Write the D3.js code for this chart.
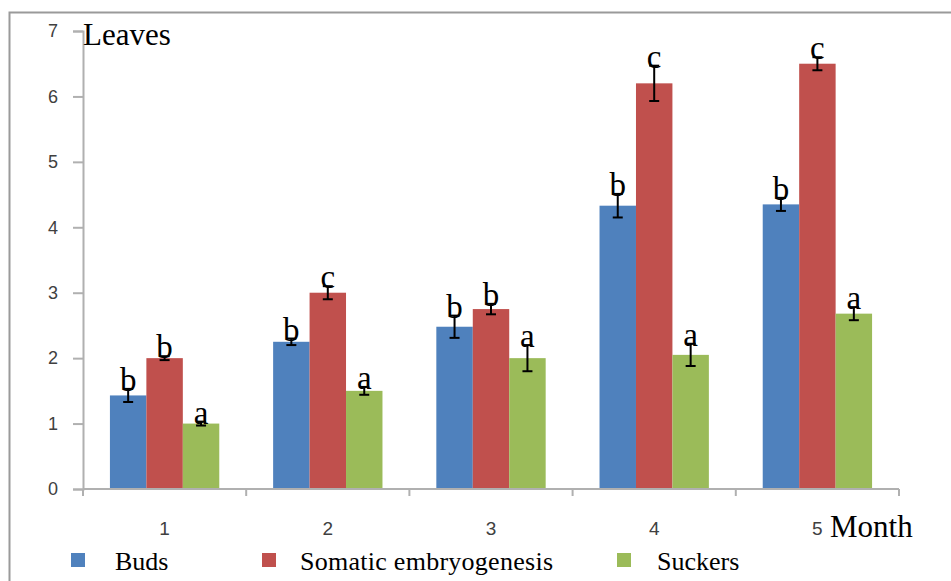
<!DOCTYPE html>
<html>
<head>
<meta charset="utf-8">
<script src="https://cdn.jsdelivr.net/npm/d3@7"></script>
<style>
  body { margin: 0; background: #fff; }
  .serif { font-family: "Liberation Serif", "DejaVu Serif", serif; }
  .sans { font-family: "Liberation Sans", Arial, sans-serif; }
</style>
</head>
<body>
<div id="chart"></div>
<script>
// data
const months = ["1", "2", "3", "4", "5"];
const seriesNames = ["Buds", "Somatic embryogenesis", "Suckers"];
const colors = ["#4F81BD", "#C0504D", "#9BBB59"];
const buds = [1.43, 2.25, 2.48, 4.33, 4.35];
const somatic = [2.0, 3.0, 2.75, 6.2, 6.5];
const suckers = [1.0, 1.5, 2.0, 2.05, 2.68];
const budsErr = [0.1, 0.05, 0.17, 0.18, 0.1];
const somaticErr = [0.03, 0.1, 0.08, 0.27, 0.1];
const suckersErr = [0.03, 0.06, 0.2, 0.17, 0.1];
const budsLetters = ["b", "b", "b", "b", "b"];
const somaticLetters = ["b", "c", "b", "c", "c"];
const suckersLetters = ["a", "a", "a", "a", "a"];
const yTicks = [0, 1, 2, 3, 4, 5, 6, 7];

const values = [buds, somatic, suckers];
const errors = [budsErr, somaticErr, suckersErr];
const letters = [budsLetters, somaticLetters, suckersLetters];

// flatten into one row per bar
const rows = [];
months.forEach((m, i) => {
  seriesNames.forEach((s, j) => {
    rows.push({month: m, series: s, idx: j, value: values[j][i], err: errors[j][i], letter: letters[j][i]});
  });
});

const w = 951;
const h = 581;

const svg = d3.select("#chart")
  .append("svg")
  .attr("width", w)
  .attr("height", h);

// frame of the chart area
svg.append("rect")
  .attr("x", 9.5).attr("y", 12.5)
  .attr("width", w + 20).attr("height", h + 20)
  .attr("fill", "none")
  .attr("stroke", "#9a9a9a")
  .attr("stroke-width", 2);

// scales
const x0 = d3.scaleBand()
  .domain(months)
  .range([83, 899])
  .paddingInner(0.33)
  .paddingOuter(0.165);

const x1 = d3.scaleBand()
  .domain(seriesNames)
  .range([0, x0.bandwidth()]);

const y = d3.scaleLinear()
  .domain([0, 7])
  .range([489, 31]);

// bars
svg.append("g")
  .selectAll("rect")
  .data(rows)
  .enter()
  .append("rect")
  .attr("x", d => x0(d.month) + x1(d.series))
  .attr("y", d => y(d.value))
  .attr("width", x1.bandwidth())
  .attr("height", d => y(0) - y(d.value))
  .attr("fill", d => colors[d.idx]);

// error bars
const eb = svg.append("g").attr("stroke", "#000").attr("stroke-width", 2);
rows.forEach(d => {
  const cx = x0(d.month) + x1(d.series) + x1.bandwidth() / 2;
  const top = y(d.value + d.err);
  const bot = y(d.value - d.err);
  eb.append("line").attr("x1", cx).attr("x2", cx).attr("y1", top).attr("y2", bot);
  eb.append("line").attr("x1", cx - 5).attr("x2", cx + 5).attr("y1", top).attr("y2", top);
  eb.append("line").attr("x1", cx - 5).attr("x2", cx + 5).attr("y1", bot).attr("y2", bot);
});

// significance letters
svg.append("g")
  .selectAll("text")
  .data(rows)
  .enter()
  .append("text")
  .attr("class", "serif")
  .attr("x", d => x0(d.month) + x1(d.series) + x1.bandwidth() / 2)
  .attr("y", d => y(d.value + d.err) + 2)
  .attr("text-anchor", "middle")
  .attr("font-size", 33)
  .attr("fill", "#000")
  .text(d => d.letter);

// y axis
const yAxis = d3.axisLeft(y).tickValues(yTicks).tickFormat(d3.format("d")).tickSize(10).tickPadding(15);
const gy = svg.append("g")
  .attr("transform", "translate(83,0)")
  .call(yAxis);
gy.select(".domain").attr("stroke", "#b0b0b0").attr("stroke-width", 2);
gy.selectAll(".tick line").attr("stroke", "#b0b0b0").attr("stroke-width", 2);
gy.selectAll(".tick text")
  .attr("class", "sans")
  .attr("font-size", 18)
  .attr("fill", "#404040");

// x axis: ticks on category boundaries
const boundaries = months.map(m => x0(m) - x0.step() * x0.paddingInner() / 2)
  .concat([x0(months[months.length - 1]) + x0.bandwidth() + x0.step() * x0.paddingInner() / 2]);
const gx = svg.append("g").attr("stroke", "#b0b0b0").attr("stroke-width", 2);
gx.append("line").attr("x1", 83).attr("x2", 899).attr("y1", y(0)).attr("y2", y(0));
gx.selectAll(".xt")
  .data(boundaries)
  .enter()
  .append("line")
  .attr("x1", d => d).attr("x2", d => d)
  .attr("y1", y(0)).attr("y2", y(0) + 7);

svg.append("g")
  .selectAll("text")
  .data(months)
  .enter()
  .append("text")
  .attr("class", "sans")
  .attr("x", d => x0(d) + x0.bandwidth() / 2)
  .attr("y", 535)
  .attr("text-anchor", "middle")
  .attr("font-size", 19)
  .attr("fill", "#404040")
  .text(d => d);

// axis titles
svg.append("text")
  .attr("class", "serif")
  .attr("x", 83).attr("y", 45)
  .attr("font-size", 31)
  .attr("fill", "#000")
  .text("Leaves");

svg.append("text")
  .attr("class", "serif")
  .attr("x", 830).attr("y", 537)
  .attr("font-size", 31)
  .attr("fill", "#000")
  .text("Month");

// legend
const legendBox = [71, 262, 617];
const legendText = [115, 300, 657];
const legend = svg.append("g");
seriesNames.forEach((s, j) => {
  legend.append("rect")
    .attr("x", legendBox[j]).attr("y", 553)
    .attr("width", 14).attr("height", 14)
    .attr("fill", colors[j]);
  legend.append("text")
    .attr("class", "serif")
    .attr("x", legendText[j]).attr("y", 570)
    .attr("font-size", 26)
    .attr("fill", "#000")
    .attr("textLength", j === 1 ? 253 : null)
    .text(s);
});
</script>
</body>
</html>
